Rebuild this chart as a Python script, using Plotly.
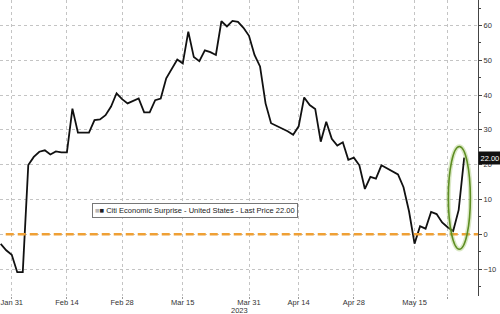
import plotly.graph_objects as go

dates = [
    "2023-01-27", "2023-01-30", "2023-01-31", "2023-02-01", "2023-02-02", "2023-02-03",
    "2023-02-06", "2023-02-07", "2023-02-08", "2023-02-09", "2023-02-10",
    "2023-02-13", "2023-02-14", "2023-02-15", "2023-02-16", "2023-02-17",
    "2023-02-20", "2023-02-21", "2023-02-22", "2023-02-23", "2023-02-24",
    "2023-02-27", "2023-02-28", "2023-03-01", "2023-03-02", "2023-03-03",
    "2023-03-06", "2023-03-07", "2023-03-08", "2023-03-09", "2023-03-10",
    "2023-03-13", "2023-03-14", "2023-03-15", "2023-03-16", "2023-03-17",
    "2023-03-20", "2023-03-21", "2023-03-22", "2023-03-23", "2023-03-24",
    "2023-03-27", "2023-03-28", "2023-03-29", "2023-03-30", "2023-03-31",
    "2023-04-03", "2023-04-04", "2023-04-05", "2023-04-06",
    "2023-04-10", "2023-04-11", "2023-04-12", "2023-04-13", "2023-04-14",
    "2023-04-17", "2023-04-18", "2023-04-19", "2023-04-20", "2023-04-21",
    "2023-04-24", "2023-04-25", "2023-04-26", "2023-04-27", "2023-04-28",
    "2023-05-01", "2023-05-02", "2023-05-03", "2023-05-04", "2023-05-05",
    "2023-05-08", "2023-05-09", "2023-05-10", "2023-05-11", "2023-05-12",
    "2023-05-15", "2023-05-16", "2023-05-17", "2023-05-18", "2023-05-19",
    "2023-05-22", "2023-05-23", "2023-05-24", "2023-05-25", "2023-05-26",
]
values = [
    -2.8, -4.6, -5.9, -10.9, -10.9, 19.9,
    22.2, 23.7, 24.1, 22.9, 23.8,
    23.5, 23.5, 36.1, 29.2, 29.2,
    29.2, 32.8, 33.0, 34.2, 36.7,
    40.5, 38.8, 37.6, 38.3, 39.0,
    35.0, 35.0, 38.5, 39.0, 44.8,
    47.6, 50.2, 49.1, 58.2, 50.9,
    49.7, 52.8, 52.3, 51.5, 61.2,
    59.7, 61.3, 61.0, 59.3, 57.0,
    51.5, 48.2, 37.6, 31.9,
    31.2, 30.4, 29.6, 28.6, 31.0,
    39.3, 37.1, 36.0, 26.6, 32.3,
    27.4, 25.5, 26.4, 21.4, 22.0,
    19.8, 13.0, 16.5, 16.0, 19.8,
    18.9, 18.2, 17.2, 13.5, 6.6,
    -2.7, 2.3, 1.6, 6.4, 5.8,
    3.4, 2.0, 0.9, 7.0, 22.0,
]
x_tick_dates = ["2023-01-31", "2023-02-14", "2023-02-28", "2023-03-15", "2023-03-31",
                "2023-04-14", "2023-04-28", "2023-05-15", "2023-05-23"]
x_tick_labels = ["Jan 31", "Feb 14", "Feb 28", "Mar 15", "Mar 31",
                 "Apr 14", "Apr 28", "May 15", ""]
y_ticks = [-10, 0, 10, 20, 30, 40, 50, 60]
series_name = "Citi Economic Surprise - United States - Last Price 22.00"
last_label = "22.00"
year_label = "2023"

FONT = "Liberation Sans, Arial, sans-serif"

fig = go.Figure()
fig.add_trace(go.Scatter(
    x=dates, y=values, mode="lines",
    line=dict(color="#111111", width=1.8),
    showlegend=False, hoverinfo="skip",
))

# zero reference line (orange dashed)
fig.add_shape(type="line", xref="paper", yref="y", x0=0.012, x1=1, y0=0, y1=0,
              line=dict(color="#EFA035", width=2.6, dash="8px,4px"), layer="above")

# highlight ellipse (glow + line)
fig.add_shape(type="circle", xref="paper", yref="y",
              x0=0.938, x1=0.984, y0=-4.3, y1=25.2,
              line=dict(color="rgba(150,190,90,0.35)", width=4.5))
fig.add_shape(type="circle", xref="paper", yref="y",
              x0=0.938, x1=0.984, y0=-4.3, y1=25.2,
              line=dict(color="#5E8E22", width=1.6))

# legend box
fig.add_annotation(
    xref="paper", yref="paper", x=0.408, y=0.29, xanchor="center", yanchor="middle",
    text="<span style='color:#b8b8b8'>■</span>■ " + series_name,
    showarrow=False, font=dict(family=FONT, size=7.5, color="#222222"),
    bgcolor="white", bordercolor="#777777", borderwidth=1, borderpad=2,
)

# last price label
fig.add_annotation(
    xref="paper", yref="y", x=1.0, y=values[-1], xanchor="left", yanchor="middle",
    text=last_label, showarrow=False,
    font=dict(family=FONT, size=7.5, color="white"),
    bgcolor="#111111", borderpad=1.5,
)

# year label
fig.add_annotation(
    xref="paper", yref="paper", x=0.5, y=-0.05, xanchor="center", yanchor="middle",
    text=year_label, showarrow=False, font=dict(family=FONT, size=7.5, color="#333333"),
)

fig.update_layout(
    width=500, height=314,
    margin=dict(l=0, r=22, t=0, b=18),
    paper_bgcolor="white", plot_bgcolor="white",
    font=dict(family=FONT, size=7.5, color="#333333"),
    showlegend=False,
)
fig.update_xaxes(
    type="date",
    range=["2023-01-26 21:00", "2023-05-30 12:00"],
    rangebreaks=[dict(bounds=["sat", "mon"]), dict(values=["2023-04-07"])],
    tickvals=x_tick_dates, ticktext=x_tick_labels,
    showgrid=True, gridcolor="#c4c4c4", griddash="dot", gridwidth=1,
    ticks="outside", ticklen=2, tickcolor="#999999",
    ticklabelstandoff=-3,
    showline=False, zeroline=False,
    tickfont=dict(family=FONT, size=7.5, color="#333333"),
)
fig.update_yaxes(
    side="right", range=[-17.75, 67.3],
    tickvals=y_ticks,
    showgrid=True, gridcolor="#c4c4c4", griddash="dot", gridwidth=1,
    showline=True, linecolor="#444444", linewidth=1,
    ticks="outside", ticklen=3, tickcolor="#444444",
    minor=dict(dtick=5, ticks="outside", ticklen=2, tickcolor="#444444", showgrid=False),
    zeroline=False,
    tickfont=dict(family=FONT, size=7.5, color="#333333"),
)

fig.write_html("out.html")
